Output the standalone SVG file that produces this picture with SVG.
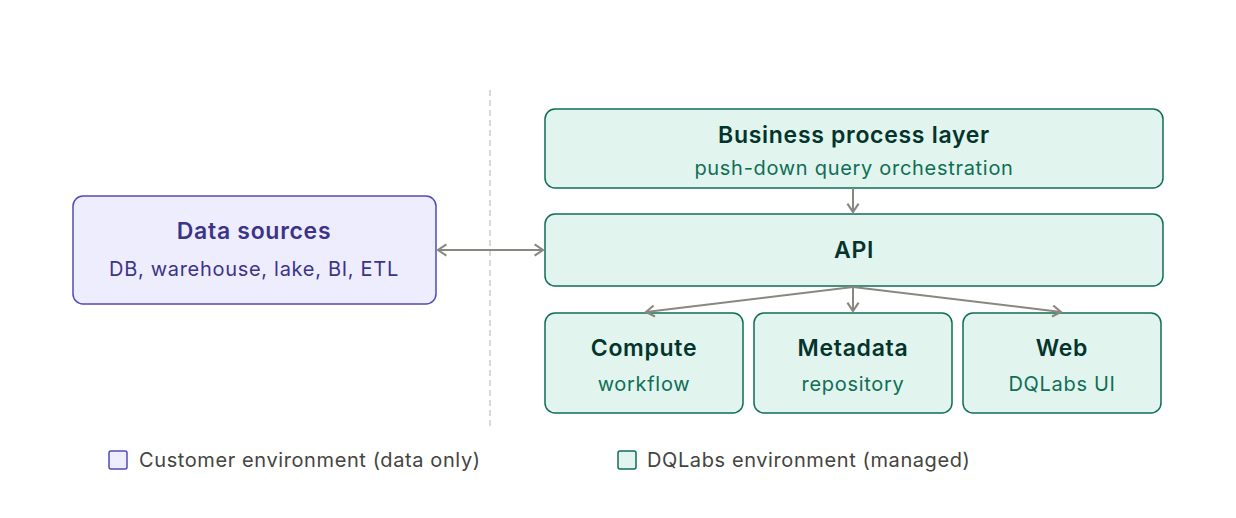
<svg xmlns="http://www.w3.org/2000/svg" width="1236" height="518" viewBox="0 0 1236 518">
<style>
text{font-family:Inter,"Liberation Sans",sans-serif;text-anchor:middle}
.g rect{fill:#e1f5ee;stroke:#0f6e56;stroke-width:1.5}
.p rect{fill:#eeedfe;stroke:#534ab7;stroke-width:1.5}
.gt{fill:#04342c;font-size:23px;font-weight:600;letter-spacing:0.7px}
.gs{fill:#0f6e56;font-size:20px;letter-spacing:0.7px}
.pt{fill:#3c3489;font-size:23px;font-weight:600;letter-spacing:0.7px}
.ps{fill:#3c3489;font-size:20px;letter-spacing:0.7px}
.c line{stroke:#888780;stroke-width:2;fill:none}
.lg{fill:#444441;font-size:20px;text-anchor:start;letter-spacing:0.6px}
</style>
<defs>
<marker id="a" viewBox="0 0 10 10" refX="8" refY="5" markerWidth="7" markerHeight="7" orient="auto-start-reverse"><path d="M2 1L8 5L2 9" fill="none" stroke="#888780" stroke-width="1.5"/></marker>
</defs>
<line x1="490" y1="90" x2="490" y2="430" stroke="#b4b2a9" stroke-width="1" stroke-dasharray="6 4"/>
<g id="sources" class="p"><rect x="73" y="196" width="363" height="108" rx="10"/><text class="pt" x="254" y="239">Data sources</text><text class="ps" x="254" y="276">DB, warehouse, lake, BI, ETL</text></g>
<g id="bpl" class="g"><rect x="545" y="109" width="618" height="79" rx="10"/><text class="gt" x="854" y="143">Business process layer</text><text class="gs" x="854" y="175">push-down query orchestration</text></g>
<g id="api" class="g"><rect x="545" y="214" width="618" height="72" rx="10"/><text class="gt" x="854" y="258">API</text></g>
<g id="compute" class="g"><rect x="545" y="313" width="198" height="100" rx="10"/><text class="gt" x="644" y="356">Compute</text><text class="gs" x="644" y="391">workflow</text></g>
<g id="metadata" class="g"><rect x="754" y="313" width="198" height="100" rx="10"/><text class="gt" x="853" y="356">Metadata</text><text class="gs" x="853" y="391">repository</text></g>
<g id="web" class="g"><rect x="963" y="313" width="198" height="100" rx="10"/><text class="gt" x="1062" y="356">Web</text><text class="gs" x="1062" y="391">DQLabs UI</text></g>
<g id="connectors" class="c">
<line x1="438" y1="250" x2="543" y2="250" marker-start="url(#a)" marker-end="url(#a)"/>
<line x1="853" y1="188" x2="853" y2="212" marker-end="url(#a)"/>
<line x1="853" y1="287" x2="646" y2="312" marker-end="url(#a)"/>
<line x1="853" y1="287" x2="853" y2="311" marker-end="url(#a)"/>
<line x1="853" y1="287" x2="1061" y2="312" marker-end="url(#a)"/>
</g>
<g id="legend">
<rect x="109" y="451" width="18" height="18" rx="2" fill="#eeedfe" stroke="#534ab7" stroke-width="1.5"/><text class="lg" x="139" y="467">Customer environment (data only)</text>
<rect x="618" y="451" width="18" height="18" rx="2" fill="#e1f5ee" stroke="#0f6e56" stroke-width="1.5"/><text class="lg" x="647" y="467">DQLabs environment (managed)</text>
</g>
</svg>
